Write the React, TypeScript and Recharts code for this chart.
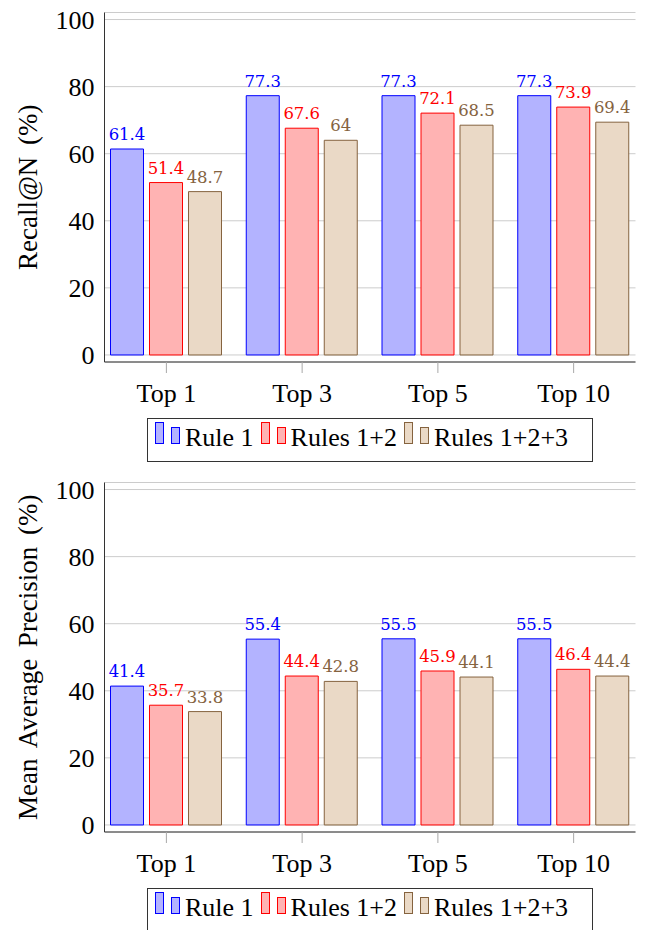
import { BarChart, Bar, XAxis, YAxis, CartesianGrid, LabelList, Legend } from 'recharts'

const categories = ['Top 1', 'Top 3', 'Top 5', 'Top 10']
const seriesNames = ['Rule 1', 'Rules 1+2', 'Rules 1+2+3']

const recallRule1 = [61.4, 77.3, 77.3, 77.3]
const recallRules12 = [51.4, 67.6, 72.1, 73.9]
const recallRules123 = [48.7, 64, 68.5, 69.4]

const mapRule1 = [41.4, 55.4, 55.5, 55.5]
const mapRules12 = [35.7, 44.4, 45.9, 46.4]
const mapRules123 = [33.8, 42.8, 44.1, 44.4]

const yTicks = [0, 20, 40, 60, 80, 100]

const SERIF = 'Liberation Serif'
const LABEL_FONT = 'DejaVu Serif'
const FRAME = '#333333'
const TICK = '#a8a8a8'

const SERIES = [
  { key: 'r1', name: seriesNames[0], fill: '#b3b3ff', stroke: '#0000ff', text: '#0000ff' },
  { key: 'r12', name: seriesNames[1], fill: '#ffb3b3', stroke: '#ff0000', text: '#ff0000' },
  { key: 'r123', name: seriesNames[2], fill: '#ead9c6', stroke: '#85633f', text: '#85633f' },
]

const Y_DOMAIN: [number, number] = [-2.1, 102.1]

function LegendBox({ payload }: any) {
  return (
    <div
      style={{
        display: 'flex',
        alignItems: 'flex-end',
        boxSizing: 'border-box',
        width: 446,
        height: 44,
        border: `1px solid ${FRAME}`,
        paddingLeft: 7,
        paddingBottom: 10,
        background: '#fff',
        fontFamily: SERIF,
        fontSize: 26,
        color: '#000',
      }}
    >
      {(payload || []).map((entry: any) => {
        const s = SERIES.find(x => x.key === entry.dataKey) || SERIES[0]
        return (
          <div key={s.key} style={{ display: 'flex', alignItems: 'flex-end', marginRight: 7 }}>
            <svg width={30} height={23} style={{ marginBottom: 6, display: 'block' }}>
              <rect x={0.5} y={0.5} width={8} height={21} fill={s.fill} stroke={s.stroke} />
              <rect x={16.5} y={5.5} width={8} height={16} fill={s.fill} stroke={s.stroke} />
            </svg>
            <span style={{ lineHeight: 1, whiteSpace: 'pre' }}>{entry.value}</span>
          </div>
        )
      })}
    </div>
  )
}

function MetricChart({ yLabel, values }: { yLabel: string; values: number[][] }) {
  const data = categories.map((cat, i) => ({
    cat,
    r1: values[0][i],
    r12: values[1][i],
    r123: values[2][i],
  }))

  return (
    <BarChart
      width={646}
      height={470}
      data={data}
      margin={{ top: 12.5, right: 10.5, left: 0, bottom: 0 }}
      barSize={33}
      barGap={6}
    >
      <CartesianGrid yAxisId="left" vertical={false} stroke="#cccccc" />
      <XAxis
        dataKey="cat"
        height={108}
        padding={{ left: -6, right: -6 }}
        interval={0}
        tickSize={11}
        tickMargin={11}
        axisLine={{ stroke: FRAME }}
        tickLine={{ stroke: TICK }}
        tick={{ fill: '#000', fontSize: 26, fontFamily: SERIF }}
      />
      <XAxis
        xAxisId="top"
        orientation="top"
        dataKey="cat"
        height={0}
        padding={{ left: -6, right: -6 }}
        interval={0}
        tickSize={11}
        axisLine={{ stroke: FRAME }}
        tickLine={{ stroke: TICK }}
        tickFormatter={() => ''}
      />
      <YAxis
        yAxisId="left"
        width={104.5}
        domain={Y_DOMAIN}
        ticks={yTicks}
        allowDataOverflow
        tickLine={false}
        tickSize={0}
        tickMargin={10}
        axisLine={{ stroke: FRAME }}
        tick={{ fill: '#000', fontSize: 26, fontFamily: SERIF }}
        label={{
          value: yLabel,
          content: (p: any) => {
            const vb = p.viewBox
            const x = vb.x + 37
            const y = vb.y + vb.height / 2
            return (
              <text
                x={x}
                y={y}
                transform={`rotate(-90 ${x} ${y})`}
                textAnchor="middle"
                fill="#000"
                fontSize={27}
                wordSpacing={5}
                fontFamily={SERIF}
              >
                {yLabel}
              </text>
            )
          },
        }}
      />
      <YAxis
        yAxisId="leftTicks"
        orientation="left"
        mirror
        width={0}
        domain={Y_DOMAIN}
        ticks={yTicks}
        allowDataOverflow
        tickSize={11}
        axisLine={false}
        tickLine={{ stroke: TICK }}
        tickFormatter={() => ''}
      />
      <YAxis
        yAxisId="right"
        orientation="right"
        mirror
        width={0}
        domain={Y_DOMAIN}
        ticks={yTicks}
        allowDataOverflow
        tickSize={11}
        axisLine={{ stroke: FRAME }}
        tickLine={{ stroke: TICK }}
        tickFormatter={() => ''}
      />
      {SERIES.map(s => (
        <Bar
          key={s.key}
          yAxisId="left"
          dataKey={s.key}
          name={s.name}
          fill={s.fill}
          stroke={s.stroke}
          strokeWidth={1}
          isAnimationActive={false}
        >
          <LabelList
            dataKey={s.key}
            position="top"
            offset={9}
            fill={s.text}
            stroke="none"
            fontSize={16.5}
            fontFamily={LABEL_FONT}
          />
        </Bar>
      ))}
      <Legend
        verticalAlign="middle"
        align="center"
        layout="horizontal"
        wrapperStyle={{ top: 418, left: 147, width: 446 }}
        content={<LegendBox />}
      />
    </BarChart>
  )
}

export default function App() {
  return (
    <div
      style={{
        position: 'absolute',
        left: 0,
        top: 0,
        width: 646,
        height: 930,
        overflow: 'hidden',
        background: '#fff',
      }}
    >
      <MetricChart yLabel="Recall@N (%)" values={[recallRule1, recallRules12, recallRules123]} />
      <MetricChart
        yLabel="Mean Average Precision (%)"
        values={[mapRule1, mapRules12, mapRules123]}
      />
    </div>
  )
}
